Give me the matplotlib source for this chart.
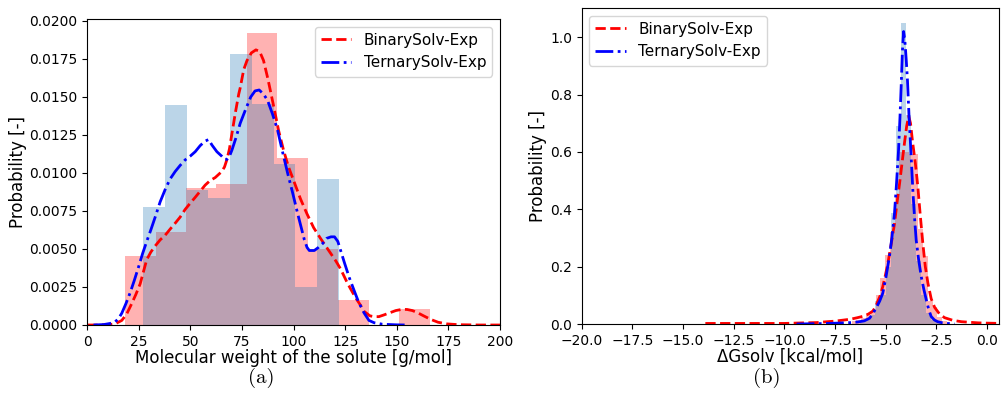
import numpy as np
import matplotlib
matplotlib.use("Agg")
import matplotlib.pyplot as plt

# ---------------- data: panel (a) molecular weight ----------------
mw_binary_edges = [18.3, 33.07, 47.84, 62.61, 77.38, 92.15, 106.92, 121.69, 136.46, 151.23, 166.0]
mw_binary_heights = [0.00456, 0.00610, 0.00899, 0.00925, 0.01919, 0.01101, 0.00498, 0.00164, 0.0, 0.00105]
mw_ternary_edges = [27.2, 37.71, 48.22, 58.73, 69.24, 79.76, 90.27, 100.78, 111.29, 121.8]
mw_ternary_heights = [0.00774, 0.01447, 0.00888, 0.00833, 0.01781, 0.01454, 0.01057, 0.00250, 0.00960]

mw_binary_kde_x = [0, 5, 10, 13.4, 16.7, 19, 21.5, 23.5, 25.6, 27.2, 28.8, 30.8, 32.9, 35.3, 37.7,
                   40.1, 42.6, 45, 47.4, 49.8, 52.3, 54.7, 57.1, 59.5, 62, 63.6, 65.2, 66.5, 67.7,
                   68.9, 70.1, 71.8, 73.4, 74.1, 75.8, 77.4, 79.5, 81.7, 83.5, 85.4, 87.5, 90.3,
                   92.7, 95.1, 97.5, 100, 103.3, 106.5, 109.7, 113, 116, 118.5, 120.5, 122.7,
                   125.9, 127.5, 130, 132.4, 134.1, 137, 139, 141.3, 143.7, 146.5, 149.5, 152.5,
                   155, 157.5, 159.9, 163, 166.4, 170, 174.5, 180, 190, 200]
mw_binary_kde_y = [0.0, 0.0, 0.00002, 0.00007, 0.0003, 0.0007, 0.0014, 0.0020, 0.0027, 0.0035,
                   0.0043, 0.0048, 0.0052, 0.0056, 0.0059, 0.0063, 0.0067, 0.0071, 0.0076, 0.0080,
                   0.0084, 0.0088, 0.0092, 0.0095, 0.0097, 0.0099, 0.0101, 0.0104, 0.0109, 0.0116,
                   0.0126, 0.0140, 0.0152, 0.0156, 0.0168, 0.0174, 0.0179, 0.0181, 0.0180, 0.0174,
                   0.0162, 0.0144, 0.0128, 0.0115, 0.0104, 0.0095, 0.0083, 0.0073, 0.0064, 0.0057,
                   0.0051, 0.0046, 0.0042, 0.0037, 0.0028, 0.0024, 0.0018, 0.0013, 0.0009, 0.0006,
                   0.00055, 0.00055, 0.00066, 0.0008, 0.00095, 0.00103, 0.00102, 0.00095, 0.00082,
                   0.0006, 0.00037, 0.00018, 0.00007, 0.00002, 0.0, 0.0]

mw_ternary_kde_x = [3, 8, 11, 13.4, 15, 16.7, 18.7, 20.7, 22.7, 24.8, 26.8, 28.8, 30.9, 32.9, 35.3,
                    37.7, 40.1, 42.6, 45, 47.4, 49.8, 52.3, 54.7, 57.1, 58.8, 60.4, 62.8, 65.2,
                    66.5, 67.7, 68.9, 70.1, 72, 74.1, 76.6, 79.2, 81.3, 83.3, 85.3, 87.3, 89.7,
                    92.2, 94.6, 97.1, 99.5, 101.9, 103.5, 105.2, 106.5, 107.6, 110, 112, 114.1,
                    116, 118.1, 119.8, 121.4, 123, 124.6, 127, 129.5, 131.5, 134.1, 136.5, 139,
                    143, 150, 155]
mw_ternary_kde_y = [0.0, 0.00003, 0.0001, 0.0002, 0.0004, 0.00077, 0.0014, 0.0021, 0.0029, 0.0038,
                    0.0047, 0.0055, 0.0063, 0.0071, 0.0081, 0.0089, 0.0096, 0.0101, 0.0105, 0.01086,
                    0.0111, 0.0114, 0.0118, 0.0121, 0.0122, 0.01184, 0.0114, 0.0111, 0.0109, 0.0109,
                    0.0111, 0.01151, 0.0123, 0.01327, 0.01414, 0.0150, 0.0154, 0.01546, 0.0152,
                    0.0148, 0.0139, 0.01283, 0.0114, 0.00998, 0.0087, 0.00735, 0.0065, 0.0056,
                    0.0051, 0.0049, 0.0049, 0.0051, 0.00537, 0.0057, 0.0058, 0.0058, 0.0055, 0.0048,
                    0.0041, 0.0031, 0.0022, 0.0015, 0.0008, 0.0003, 0.00015, 0.00005, 0.00001, 0.0]

# ---------------- data: panel (b) solvation free energy ----------------
dg_binary_edges = [-6.68, -6.445, -6.21, -5.975, -5.74, -5.505, -5.27, -5.035, -4.80, -4.565,
                   -4.33, -4.095, -3.86, -3.625, -3.39, -3.155, -2.92, -2.685, -2.45, -2.215, -1.98]
dg_binary_heights = [0.01, 0.015, 0.02, 0.03, 0.045, 0.10, 0.16, 0.24, 0.32, 0.45,
                     0.60, 0.60, 0.593, 0.593, 0.33, 0.237, 0.08, 0.06, 0.024, 0.012]
dg_ternary_edges = [-6.26, -6.01, -5.76, -5.51, -5.26, -5.01, -4.76, -4.51, -4.26, -4.01,
                    -3.76, -3.51, -3.26, -3.01, -2.76, -2.51, -2.26]
dg_ternary_heights = [0.008, 0.015, 0.03, 0.08, 0.10, 0.20, 0.386, 0.69, 1.049, 0.73,
                      0.42, 0.22, 0.10, 0.04, 0.015, 0.008]

dg_binary_kde_x = [-13.9, -12, -10, -9, -8.4, -7.9, -7.5, -7.05, -6.72, -6.4, -6.06, -5.85, -5.64,
                   -5.5, -5.4, -5.27, -5.15, -5.02, -4.9, -4.73, -4.57, -4.45, -4.32, -4.2, -4.08,
                   -3.97, -3.87, -3.78, -3.68, -3.54, -3.42, -3.3, -3.17, -3.05, -2.92, -2.76,
                   -2.59, -2.35, -2.1, -1.7, -1.27, -0.85, -0.45, 0.0, 0.67]
dg_binary_kde_y = [0.002, 0.002, 0.002, 0.004, 0.005, 0.008, 0.010, 0.014, 0.017, 0.022, 0.028,
                   0.035, 0.045, 0.06, 0.078, 0.10, 0.13, 0.17, 0.21, 0.28, 0.35, 0.42, 0.49, 0.56,
                   0.63, 0.69, 0.725, 0.70, 0.636, 0.56, 0.48, 0.38, 0.28, 0.20, 0.142, 0.088,
                   0.058, 0.035, 0.022, 0.013, 0.008, 0.006, 0.004, 0.003, 0.002]
dg_ternary_kde_x = [-9.4, -8.5, -7.8, -7.2, -6.7, -6.38, -6.06, -5.8, -5.65, -5.48, -5.3, -5.15,
                    -5.0, -4.82, -4.7, -4.57, -4.47, -4.37, -4.3, -4.24, -4.18, -4.12, -4.06,
                    -3.99, -3.93, -3.85, -3.76, -3.66, -3.58, -3.5, -3.38, -3.25, -3.12, -3.0,
                    -2.88, -2.76, -2.6, -2.44, -2.2, -1.95, -1.6]
dg_ternary_kde_y = [0.0, 0.001, 0.002, 0.0035, 0.005, 0.007, 0.011, 0.02, 0.035, 0.055, 0.08,
                    0.107, 0.16, 0.235, 0.30, 0.386, 0.49, 0.607, 0.72, 0.83, 0.95, 1.02, 0.99,
                    0.92, 0.85, 0.72, 0.60, 0.46, 0.37, 0.293, 0.225, 0.165, 0.12, 0.084, 0.05,
                    0.026, 0.014, 0.008, 0.004, 0.002, 0.0]

labels = ["BinarySolv-Exp", "TernarySolv-Exp"]
mw_xticks = [0, 25, 50, 75, 100, 125, 150, 175, 200]
mw_yticks = [0.0, 0.0025, 0.005, 0.0075, 0.01, 0.0125, 0.015, 0.0175, 0.02]
dg_xticks = [-20.0, -17.5, -15.0, -12.5, -10.0, -7.5, -5.0, -2.5, 0.0]
dg_yticks = [0.0, 0.2, 0.4, 0.6, 0.8, 1.0]

# ---------------- drawing ----------------
plt.rcParams['font.family'] = ['DejaVu Sans']
W, H = 1005, 415
fig = plt.figure(figsize=(W / 100, H / 100), dpi=100)

def px_axes(l, r, t, b):
    return fig.add_axes([l / W, 1 - b / H, (r - l) / W, (b - t) / H])

RED_A = 0.3
BLUE_A = 0.3

def draw_hist(ax, edges, heights, color, alpha):
    e = np.asarray(edges)
    ax.bar(e[:-1], heights, width=np.diff(e), align='edge', color=color, alpha=alpha,
           linewidth=0)

# panel (a)
ax1 = px_axes(87.3, 500, 19, 325)
draw_hist(ax1, mw_binary_edges, mw_binary_heights, 'red', RED_A)
draw_hist(ax1, mw_ternary_edges, mw_ternary_heights, 'C0', BLUE_A)
ax1.plot(mw_binary_kde_x, mw_binary_kde_y, color='red', ls='--', lw=2, label=labels[0])
ax1.plot(mw_ternary_kde_x, mw_ternary_kde_y, color='blue', ls='-.', lw=2, label=labels[1])
ax1.set_xlim(0, 200)
ax1.set_ylim(0, 0.02013)
ax1.set_xticks(mw_xticks)
ax1.set_yticks(mw_yticks)
ax1.set_yticklabels(['%.4f' % v for v in mw_yticks])
ax1.tick_params(labelsize=10)
ax1.set_xlabel('Molecular weight of the solute [g/mol]', fontsize=12, labelpad=0)
ax1.set_ylabel('Probability [-]', fontsize=12, labelpad=2)
ax1.legend(loc='upper right', fontsize=11)

# panel (b)
ax2 = px_axes(581.7, 999.3, 8, 324)
draw_hist(ax2, dg_binary_edges, dg_binary_heights, 'red', RED_A)
draw_hist(ax2, dg_ternary_edges, dg_ternary_heights, 'C0', BLUE_A)
ax2.plot(dg_binary_kde_x, dg_binary_kde_y, color='red', ls='--', lw=2, label=labels[0])
ax2.plot(dg_ternary_kde_x, dg_ternary_kde_y, color='blue', ls='-.', lw=2, label=labels[1])
ax2.set_xlim(-20, 0.6)
ax2.set_ylim(0, 1.102)
ax2.set_xticks(dg_xticks)
ax2.set_yticks(dg_yticks)
ax2.tick_params(labelsize=10)
ax2.set_xlabel('ΔGsolv [kcal/mol]', fontsize=12, labelpad=0)
ax2.set_ylabel('Probability [-]', fontsize=12, labelpad=2)
ax2.legend(loc='upper left', fontsize=11)

# sub-captions
fig.text(261 / W, 1 - 378 / H, '(a)', family='cmr10', fontsize=15, ha='center', va='center')
fig.text(767 / W, 1 - 378 / H, '(b)', family='cmr10', fontsize=15, ha='center', va='center')

fig.savefig('out.png', dpi=100)
